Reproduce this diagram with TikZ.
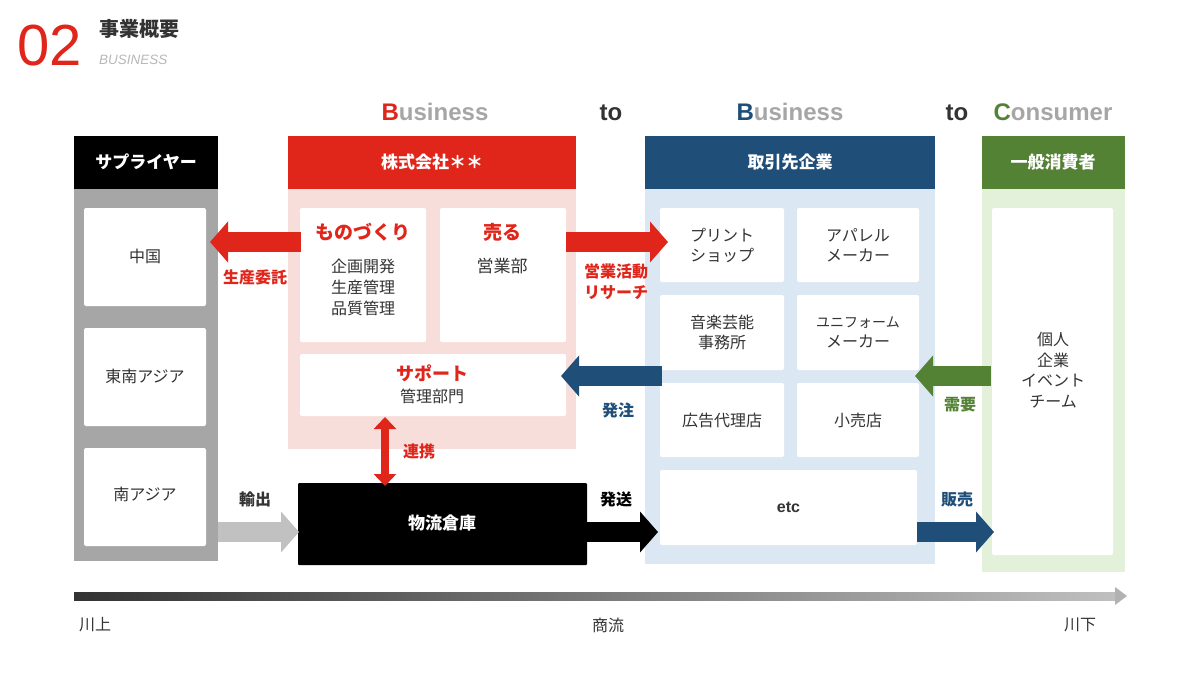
\documentclass[tikz,border=0pt]{standalone}
\usepackage{fontspec}
\setmainfont{Noto Sans CJK JP}
\newfontfamily\lat{Liberation Sans}
\usetikzlibrary{arrows.meta}
\definecolor{cred}{HTML}{E0251B}
\definecolor{cblue}{HTML}{1F4E79}
\definecolor{cgreen}{HTML}{548235}
\definecolor{cpink}{HTML}{F8DEDA}
\definecolor{clblue}{HTML}{DCE7F4}
\definecolor{clgreen}{HTML}{E3F0DA}
\definecolor{cgray}{HTML}{A6A6A6}
\definecolor{ctext}{HTML}{333333}
\tikzset{
 wbox/.style={fill=white,rounded corners=2pt},
 hdr/.style={text=white,font=\bfseries\fontsize{17}{20}\selectfont},
 txt/.style={text=ctext,font=\fontsize{16}{20}\selectfont,align=center},
 lbl/.style={font=\bfseries\fontsize{16}{20}\selectfont,align=center},
 barrow/.style={line width=20pt,-{Triangle[length=18pt,width=40pt]}},
 head/.style={font=\lat\bfseries\fontsize{24}{28}\selectfont,text=cgray,anchor=base},
}
\begin{document}
\begin{tikzpicture}[x=1pt,y=-1pt]
\useasboundingbox[fill=white] (0,0) rectangle (1200,675);
% title
\node[anchor=west,text=cred,font=\lat\fontsize{58}{64}\selectfont,inner sep=0pt] (num) at (17,46) {02};
\node[anchor=west,text=ctext,font=\bfseries\fontsize{20}{24}\selectfont,inner sep=0pt] (ttl) at (99,29) {事業概要};
\node[anchor=west,text=cgray!80,font=\lat\itshape\fontsize{13.5}{16}\selectfont,inner sep=0pt] (sub) at (99,60) {BUSINESS};
% heads
\node[head] (h1) at (435,120) {\textcolor{cred}{B}usiness};
\node[head,text=ctext] (h2) at (611,120) {to};
\node[head] (h3) at (790,120) {\textcolor{cblue}{B}usiness};
\node[head,text=ctext] (h4) at (957,120) {to};
\node[head] (h5) at (1053,120) {\textcolor{cgreen}{C}onsumer};
% supplier
\fill[cgray] (74,189) rectangle (218,561);
\fill[black] (74,136) rectangle (218,189);
\node[hdr] (sh) at (146,162) {サプライヤー};
\fill[wbox] (84,208) rectangle (206,306);
\fill[wbox] (84,328) rectangle (206,426);
\fill[wbox] (84,448) rectangle (206,546);
\node[txt] (s1) at (145,256) {中国};
\node[txt] (s2) at (145,376) {東南アジア};
\node[txt] (s3) at (145,494) {南アジア};
% company
\fill[cpink] (288,189) rectangle (576,449);
\fill[cred] (288,136) rectangle (576,189);
\node[hdr] (ch) at (432,162) {株式会社＊＊};
\fill[wbox] (300,208) rectangle (426,342);
\fill[wbox] (440,208) rectangle (566,342);
\fill[wbox] (300,354) rectangle (566,416);
\node[lbl,text=cred,font=\bfseries\fontsize{19}{22}\selectfont] (m1) at (363,232) {ものづくり};
\node[txt,font=\fontsize{16}{21}\selectfont] (m2) at (363,287) {企画開発\\生産管理\\品質管理};
\node[lbl,text=cred,font=\bfseries\fontsize{19}{22}\selectfont] (u1) at (502,232) {売る};
\node[txt,font=\fontsize{17}{20}\selectfont] (u2) at (502,266) {営業部};
\node[lbl,text=cred,font=\bfseries\fontsize{18}{22}\selectfont] (p1) at (432,373) {サポート};
\node[txt] (p2) at (432,396) {管理部門};
% warehouse
\fill[black,rounded corners=1pt] (298,483) rectangle (587,565);
\node[hdr] (wh) at (442,523) {物流倉庫};
% partners
\fill[clblue] (645,189) rectangle (935,564);
\fill[cblue] (645,136) rectangle (935,189);
\node[hdr] (bh) at (790,162) {取引先企業};
\foreach \xa/\xb/\ya/\yb/\t/\n in {660/784/208/282/{プリント\\ショップ}/b1,797/919/208/282/{アパレル\\メーカー}/b2,660/784/295/370/{音楽芸能\\事務所}/b3,797/919/295/370/{\fontsize{14}{20}\selectfont ユニフォーム\\メーカー}/b4,660/784/383/457/広告代理店/b5,797/919/383/457/小売店/b6,660/917/470/545/{\lat\bfseries etc}/b7}{
 \fill[wbox] (\xa,\ya) rectangle (\xb,\yb);
 \node[txt] (\n) at ({(\xa+\xb)/2},{(\ya+\yb)/2}) {\t};
}
% consumer
\fill[clgreen] (982,189) rectangle (1125,572);
\fill[cgreen] (982,136) rectangle (1125,189);
\node[hdr] (gh) at (1053,162) {一般消費者};
\fill[wbox] (992,208) rectangle (1113,555);
\node[txt,font=\fontsize{16}{20.5}\selectfont] (g1) at (1053,370) {個人\\企業\\イベント\\チーム};
% arrows
\coordinate (a1s) at (301,242); \coordinate (a1e) at (210,242);
\draw[barrow,cred] (a1s) -- (a1e);
\coordinate (a2s) at (566,242); \coordinate (a2e) at (668,242);
\draw[barrow,cred] (a2s) -- (a2e);
\coordinate (a3s) at (662,376); \coordinate (a3e) at (561,376);
\draw[barrow,cblue] (a3s) -- (a3e);
\coordinate (a4s) at (991,376); \coordinate (a4e) at (915,376);
\draw[barrow,cgreen] (a4s) -- (a4e);
\coordinate (a5s) at (917,532); \coordinate (a5e) at (994,532);
\draw[barrow,cblue] (a5s) -- (a5e);
\coordinate (a6s) at (586,532); \coordinate (a6e) at (658,532);
\draw[barrow,black] (a6s) -- (a6e);
\coordinate (a7s) at (218,532); \coordinate (a7e) at (299,532);
\draw[barrow,cgray!70] (a7s) -- (a7e);
\coordinate (a8s) at (385,417); \coordinate (a8e) at (385,486);
\draw[line width=8pt,cred,{Triangle[length=12pt,width=22pt]}-{Triangle[length=12pt,width=22pt]}] (a8s) -- (a8e);
% labels
\node[lbl,text=cred] (l1) at (255,277) {生産委託};
\node[lbl,text=cred,font=\bfseries\fontsize{16}{21}\selectfont] (l2) at (616,282) {営業活動\\リサーチ};
\node[lbl,text=cblue] (l3) at (618,410) {発注};
\node[lbl,text=cgreen] (l4) at (960,405) {需要};
\node[lbl,text=cblue] (l5) at (957,499) {販売};
\node[lbl,text=black] (l6) at (616,499) {発送};
\node[lbl,text=ctext] (l7) at (255,499) {輸出};
\node[lbl,text=cred] (l8) at (419,451) {連携};
% flow bar
\shade[left color=black!80,right color=black!25] (74,592) rectangle (1116,600);
\fill[black!30] (1115,587) -- (1127,596) -- (1115,605) -- cycle;
\node[txt] (r1) at (95,625) {川上};
\node[txt] (r2) at (608,625) {商流};
\node[txt] (r3) at (1080,625) {川下};
\end{tikzpicture}
\end{document}
